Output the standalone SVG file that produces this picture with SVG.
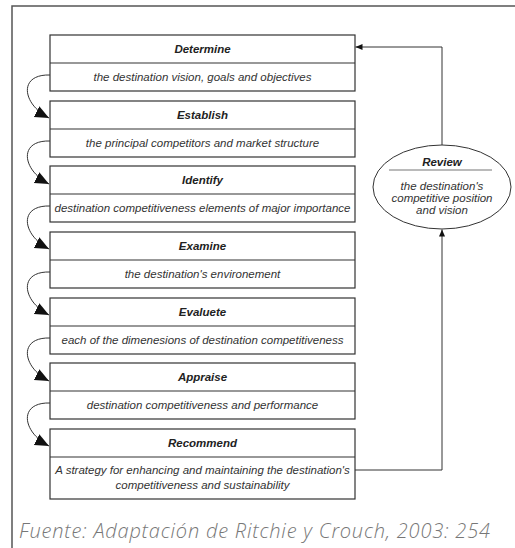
<svg xmlns="http://www.w3.org/2000/svg" width="515" height="548" viewBox="0 0 515 548">
<style>
.box{fill:#fff;stroke:#333;stroke-width:1.2}
.div{stroke:#333;stroke-width:1.2}
.h{font-family:"Liberation Sans",Arial,sans-serif;font-size:11.5px;font-weight:bold;font-style:italic;fill:#222;text-anchor:middle}
.b{font-family:"Liberation Sans",Arial,sans-serif;font-size:11.5px;font-style:italic;fill:#333;text-anchor:middle}
.con{fill:none;stroke:#333;stroke-width:1}
</style>
<defs>
<marker id="big" markerUnits="userSpaceOnUse" markerWidth="15" markerHeight="13" refX="14" refY="6" orient="auto" viewBox="0 0 15 13">
<path d="M0,0 L14,6 L0,12 z" fill="#111"/>
</marker>
<marker id="sm" markerUnits="userSpaceOnUse" markerWidth="8" markerHeight="7" refX="7" refY="3" orient="auto" viewBox="0 0 8 7">
<path d="M0,0 L7,3 L0,6 z" fill="#111"/>
</marker>
</defs>
<rect width="515" height="548" fill="#fff"/>
<path d="M515,6 H12 V548" fill="none" stroke="#555" stroke-width="1.5"/>

<g id="determine">
<rect class="box" x="50" y="35" width="305" height="56"/>
<line class="div" x1="50" y1="63" x2="355" y2="63"/>
<text class="h" x="202.5" y="53">Determine</text>
<text class="b" x="202.5" y="81">the destination vision, goals and objectives</text>
</g>
<g id="establish">
<rect class="box" x="50" y="101" width="305" height="56"/>
<line class="div" x1="50" y1="129" x2="355" y2="129"/>
<text class="h" x="202.5" y="119">Establish</text>
<text class="b" x="202.5" y="147">the principal competitors and market structure</text>
</g>
<g id="identify">
<rect class="box" x="50" y="166" width="305" height="56"/>
<line class="div" x1="50" y1="194" x2="355" y2="194"/>
<text class="h" x="202.5" y="184">Identify</text>
<text class="b" x="202.5" y="212">destination competitiveness elements of major importance</text>
</g>
<g id="examine">
<rect class="box" x="50" y="232" width="305" height="56"/>
<line class="div" x1="50" y1="260" x2="355" y2="260"/>
<text class="h" x="202.5" y="250">Examine</text>
<text class="b" x="202.5" y="278">the destination's environement</text>
</g>
<g id="evaluete">
<rect class="box" x="50" y="298" width="305" height="56"/>
<line class="div" x1="50" y1="326" x2="355" y2="326"/>
<text class="h" x="202.5" y="316">Evaluete</text>
<text class="b" x="202.5" y="344">each of the dimenesions of destination competitiveness</text>
</g>
<g id="appraise">
<rect class="box" x="50" y="363" width="305" height="56"/>
<line class="div" x1="50" y1="391" x2="355" y2="391"/>
<text class="h" x="202.5" y="381">Appraise</text>
<text class="b" x="202.5" y="409">destination competitiveness and performance</text>
</g>
<g id="recommend">
<rect class="box" x="50" y="429" width="305" height="70"/>
<line class="div" x1="50" y1="457" x2="355" y2="457"/>
<text class="h" x="202.5" y="447">Recommend</text>
<text class="b" x="202.5" y="474">A strategy for enhancing and maintaining the destination's</text>
<text class="b" x="202.5" y="489">competitiveness and sustainability</text>
</g>
<g id="review">
<ellipse cx="442" cy="187" rx="69" ry="42" fill="#fff" stroke="#333" stroke-width="1"/>
<line x1="389" y1="170" x2="492" y2="170" stroke="#777" stroke-width="1.2"/>
<text class="h" x="442" y="166">Review</text>
<text class="b" x="442" y="190">the destination's</text>
<text class="b" x="442" y="202">competitive position</text>
<text class="b" x="442" y="214">and vision</text>
</g>

<g id="connectors">
<path class="con" d="M50,75 C18,74 22,104 49,118" marker-end="url(#big)"/>
<path class="con" d="M50,141 C18,140 22,170 49,184" marker-end="url(#big)"/>
<path class="con" d="M50,206 C18,205 22,235 49,249" marker-end="url(#big)"/>
<path class="con" d="M50,272 C18,271 22,301 49,315" marker-end="url(#big)"/>
<path class="con" d="M50,338 C18,337 22,367 49,381" marker-end="url(#big)"/>
<path class="con" d="M50,403 C18,402 22,432 49,446" marker-end="url(#big)"/>
<path class="con" d="M355,470 H442 V229.5" marker-end="url(#sm)"/>
<path class="con" d="M442,145 V47 H355.5" marker-end="url(#sm)"/>
</g>

<text x="19" y="538" font-family="'Open Sans',sans-serif" font-weight="300" font-style="italic" font-size="20" fill="#777" textLength="471" lengthAdjust="spacing">Fuente: Adaptación de Ritchie y Crouch, 2003:  254</text>
</svg>
